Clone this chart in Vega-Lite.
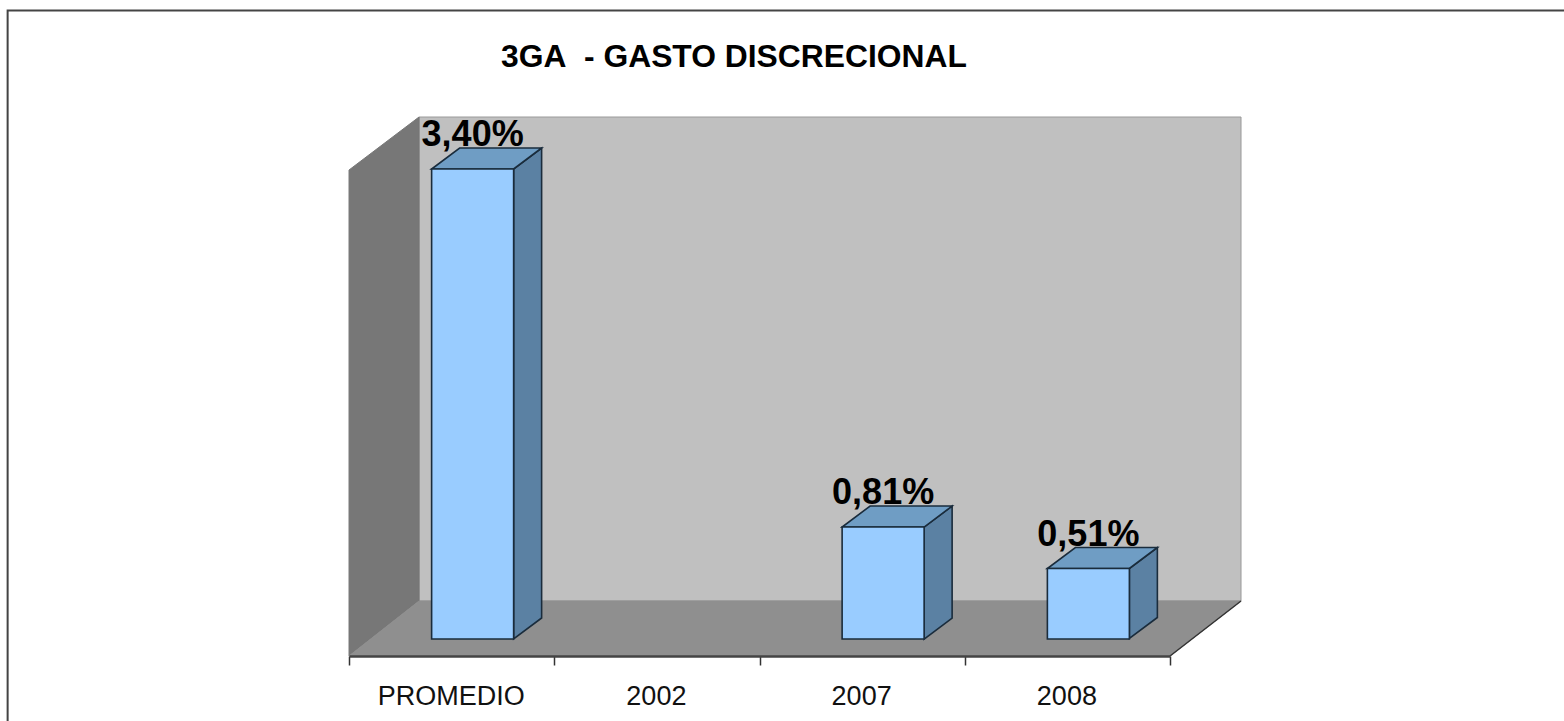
{
"$schema":"https://vega.github.io/schema/vega-lite/v6.json",
"width":1564,"height":721,"padding":0,"autosize":{"type":"none"},
"background":"#ffffff",
"config":{"view":{"stroke":null},"font":"Liberation Sans","locale":{"number":{"decimal":",","thousands":".","grouping":[3],"currency":["","%"]}}},
"title":{"text":"3GA\u00a0 - GASTO DISCRECIONAL","anchor":"start","frame":"group","orient":"top","dx":501,"dy":32,"offset":-67,"baseline":"alphabetic","font":"Liberation Sans","fontSize":31.8,"fontWeight":"bold","color":"#000000"},
"data":{"values":[
{"categoria":"PROMEDIO","valor":0.034},
{"categoria":"2002","valor":null},
{"categoria":"2007","valor":0.0081},
{"categoria":"2008","valor":0.0051}
]},
"encoding":{
"x":{"field":"categoria","type":"nominal","sort":null,"title":null,
"scale":{"domain":["PROMEDIO","2002","2007","2008"],"range":[349,1170],"paddingInner":0,"paddingOuter":0},
"axis":{"orient":"bottom","offset":-65,"zindex":1,"labelAngle":0,"labelFont":"Liberation Sans","labelFontSize":27,"labelColor":"#111111","labelPadding":18,"labelOffset":-1,"tickBand":"extent","tickSize":9,"tickWidth":1.5,"tickColor":"#333333","domainColor":"#444444","domainWidth":2.5,"grid":false}},
"y":{"field":"valor","type":"quantitative","title":null,"axis":null,
"scale":{"domain":[0,0.034],"range":[639,169],"nice":false,"zero":false}}
},
"layer":[
{"data":{"values":[
{"categoria":"PROMEDIO","valor":0,"plano":"fondo"},
{"categoria":"PROMEDIO","valor":0,"plano":"lateral"},
{"categoria":"PROMEDIO","valor":0,"plano":"suelo"}
]},
"mark":{"type":"point","filled":true,"size":4,"opacity":1,"strokeWidth":1},
"encoding":{
"shape":{"field":"plano","type":"nominal","legend":null,"scale":{"domain":["fondo","lateral","suelo"],"range":["M-32.6 -522L789.4 -522L789.4 -38L-32.6 -38Z","M-102.6 -469L-32.6 -522L-32.6 -38L-102.6 17Z","M-102.6 17L-32.6 -38L789.4 -38L718.4 17Z"]}},
"fill":{"field":"plano","type":"nominal","legend":null,"scale":{"domain":["fondo","lateral","suelo"],"range":["#c0c0c0","#777777","#8f8f8f"]}},
"stroke":{"field":"plano","type":"nominal","legend":null,"scale":{"domain":["fondo","lateral","suelo"],"range":["#9a9a9a","#777777","#8f8f8f"]}}
}},
{"data":{"values":[{"categoria":"PROMEDIO","valor":0}]},
"mark":{"type":"point","filled":false,"size":4,"opacity":1,"strokeWidth":1.5,"stroke":"#333333","shape":"M718.4 17L789.4 -38"}},
{"data":{"values":[{"categoria":"PROMEDIO","valor":0}]},
"mark":{"type":"point","filled":false,"size":4,"opacity":1,"strokeWidth":2,"stroke":"#444444","shape":"M-444 82L-444 -628.5L1113 -628.5"}},
{"transform":[{"filter":"isValid(datum.valor)"}],
"mark":{"type":"point","filled":true,"size":4,"opacity":1,"xOffset":62,"fill":"#5b81a3","stroke":"#1a2c3c","strokeWidth":1.6},
"encoding":{"shape":{"field":"categoria","type":"nominal","legend":null,"scale":{"domain":["PROMEDIO","2007","2008"],"range":["M0 0L28 -21L28 449L0 470Z","M0 0L28 -21L28 91L0 112Z","M0 0L28 -21L28 49L0 70Z"]}}}},
{"transform":[{"filter":"isValid(datum.valor)"}],
"mark":{"type":"point","filled":true,"size":4,"opacity":1,"xOffset":62,"fill":"#6f9dc4","stroke":"#1a2c3c","strokeWidth":1.6,"shape":"M0 0L-82 0L-54 -21L28 -21Z"}},
{"transform":[{"filter":"isValid(datum.valor)"}],
"mark":{"type":"bar","width":82,"xOffset":21,"fill":"#99ccff","stroke":"#1a2c3c","strokeWidth":1.6},
"encoding":{"y2":{"datum":0}}},
{"transform":[{"filter":"isValid(datum.valor)"}],
"mark":{"type":"text","xOffset":21,"dy":-23,"baseline":"alphabetic","align":"center","font":"Liberation Sans","fontSize":36,"fontWeight":"bold","fill":"#000000"},
"encoding":{"text":{"field":"valor","type":"quantitative","format":".2%"}}}
],
"resolve":{"scale":{"shape":"independent"}}
}
